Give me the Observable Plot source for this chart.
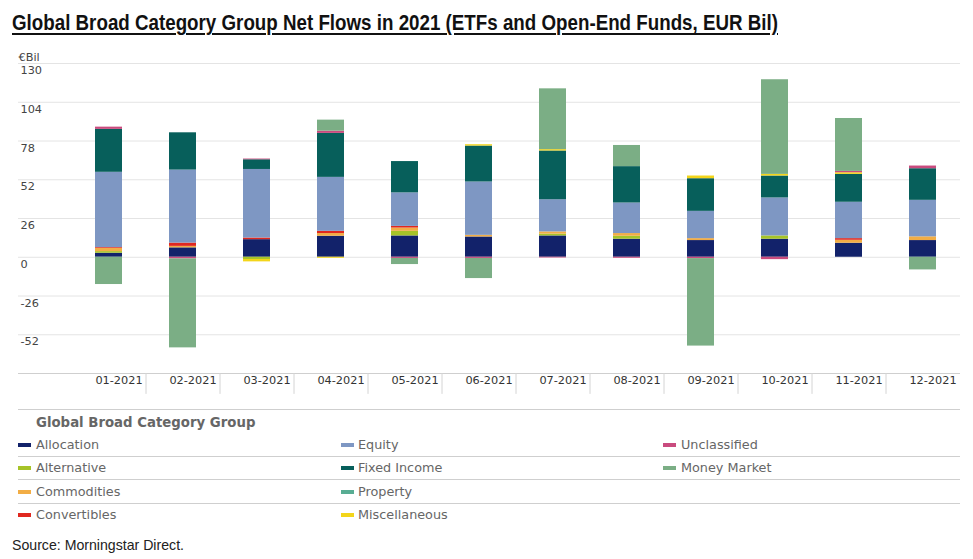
<!DOCTYPE html>
<html>
<head>
<meta charset="utf-8">
<script src="https://cdn.jsdelivr.net/npm/d3@7"></script>
<script src="https://cdn.jsdelivr.net/npm/@observablehq/plot@0.6"></script>
<style>
  html, body { margin: 0; padding: 0; background: #fff; }
  body { width: 973px; height: 559px; position: relative; overflow: hidden; }
  #title { position: absolute; left: 12px; top: 11px; line-height: 24px; white-space: nowrap;
    font-family: "Liberation Sans", Arial, sans-serif; font-weight: bold; transform-origin: 0 0;
    font-size: 21.5px; color: #111; text-decoration: underline; text-decoration-thickness: 2px; text-underline-offset: 3px; }
  #chart { position: absolute; left: 0; top: 40px; }
  #legend { position: absolute; left: 0; top: 0; width: 973px; height: 559px; pointer-events: none;
    font-family: "DejaVu Sans", sans-serif; color: #666; }
  .lg-line { position: absolute; left: 18px; width: 942px; height: 0; border-top: 1px solid #cfcfcf; }
  .lg-head { position: absolute; left: 36px; font-weight: bold; font-size: 13.3px; line-height: 16px; color: #666; }
  .lg-item { position: absolute; font-size: 12.8px; line-height: 16px; white-space: nowrap; }
  .lg-sw { position: absolute; width: 13px; height: 4px; }
  #source { position: absolute; left: 12px; top: 536px; line-height: 18px; white-space: nowrap; transform-origin: 0 0;
    font-family: "Liberation Sans", Arial, sans-serif; font-size: 15px; color: #222; }
</style>
</head>
<body>
<div id="title">Global Broad Category Group Net Flows in 2021 (ETFs and Open-End Funds, EUR Bil)</div>
<div id="chart"></div>
<div id="legend"></div>
<div id="source">Source: Morningstar Direct.</div>
<script>
// ---- data ----
const months = ["01-2021","02-2021","03-2021","04-2021","05-2021","06-2021","07-2021","08-2021","09-2021","10-2021","11-2021","12-2021"];
const yTicks = [130, 104, 78, 52, 26, 0, -26, -52];
const yAxisBottom = -78;

// stacking order (bottom to top)
const seriesNames = ["Allocation","Alternative","Commodities","Convertibles","Equity","Fixed Income","Miscellaneous","Property","Unclassified","Money Market"];
const seriesColors = ["#12226a","#a6c328","#f2ad45","#e0281f","#7e97c3","#075f5b","#f3d51a","#58ad93","#c94b7e","#7bae85"];

const allocation    = [2.7, 6.3, 11.8, 14.1, 14.3, 13.6, 14.3, 12.1, 11.2, 12.1, 9.4, 11.2];
const alternative   = [1.1, 0, -1.5, 0, 3.1, 0, 1.2, 2.0, 0, 2.2, 0, 0];
const commodities   = [2.2, 1.0, 0, 1.8, 2.2, 1.1, 1.5, 1.8, 1.3, 0, 2.0, 2.5];
const convertibles  = [0.5, 2.2, 1.1, 1.5, 1.1, 0, 0, 0, 0, 0, 1.1, 0];
const equity        = [50.5, 49.0, 46.0, 36.2, 22.5, 35.8, 21.6, 20.5, 18.3, 25.5, 24.4, 24.5];
const fixedIncome   = [28.8, 25.0, 6.5, 29.5, 21.0, 24.1, 32.7, 24.4, 21.9, 14.7, 18.7, 21.2];
const miscellaneous = [0, 0, -1.6, -0.7, 0, 0.9, 0.9, 0, 1.8, 1.1, 1.1, 0];
const property      = [0, 0, 0, 0, 0, 0, 0, 0, 0, 0, 0, 0];
const unclassified  = [1.5, -1.1, 0.5, 1.5, -0.8, -0.8, -0.5, -0.7, -0.9, -1.6, 0.9, 1.8];
const moneyMarket   = [-18.3, -59.7, 0, 7.4, -4.1, -13.5, 40.8, 14.2, -58.7, 63.5, 35.5, -8.5];

const legendOrder = ["Allocation","Alternative","Commodities","Convertibles","Equity","Fixed Income","Property","Miscellaneous","Unclassified","Money Market"];

// ---- build table ----
const seriesValues = [allocation, alternative, commodities, convertibles, equity, fixedIncome, miscellaneous, property, unclassified, moneyMarket];
const rows = [];
seriesNames.forEach((s, i) => {
  months.forEach((m, j) => {
    const v = seriesValues[i][j];
    if (v !== 0) rows.push({month: m, series: s, value: v});
  });
});

const step = (959.5 - 71.5) / months.length;

const chart = Plot.plot({
  width: 973,
  height: 360,
  marginTop: 23,
  marginBottom: 27,
  marginLeft: 18,
  marginRight: 13,
  style: {fontFamily: "DejaVu Sans, sans-serif", fontSize: "11.3px", color: "#444", background: "transparent"},
  x: {type: "band", domain: months, range: [71.5, 959.5], paddingInner: 0.635, paddingOuter: 0.3175, axis: null},
  y: {domain: [yAxisBottom, 130], axis: null},
  color: {domain: seriesNames, range: seriesColors},
  marks: [
    Plot.ruleY(yTicks, {y: d => d, stroke: "#e4e4e4", strokeWidth: 1}),
    Plot.ruleY([yAxisBottom], {y: d => d, stroke: "#cfcfcf", strokeWidth: 1}),
    Plot.text(yTicks, {y: d => d, text: d => String(d), frameAnchor: "left", textAnchor: "start", dx: 2, dy: 7, fill: "#444"}),
    Plot.text(["€Bil"], {text: d => d, frameAnchor: "top-left", textAnchor: "start", dy: -11, fill: "#444"}),
    Plot.barY(rows, Plot.stackY({x: "month", y: "value", fill: "series", order: seriesNames})),
    Plot.ruleX(months.slice(1), {x: d => d, dx: -step / 2, y1: yAxisBottom, y2: yAxisBottom - 14, stroke: "#d4d4d4"}),
    Plot.text(months, {x: d => d, text: d => d, frameAnchor: "bottom", dy: 10, dx: 10, fill: "#333"})
  ]
});
document.getElementById("chart").appendChild(chart);

// ---- fit condensed-looking texts ----
function fitWidth(id, target) {
  const el = document.getElementById(id);
  const w = el.getBoundingClientRect().width;
  if (w > 0) el.style.transform = `scaleX(${target / w})`;
}
fitWidth("title", 766);
fitWidth("source", 172);

// ---- legend ----
const legend = document.getElementById("legend");
const colorOf = Object.fromEntries(seriesNames.map((s, i) => [s, seriesColors[i]]));
function add(cls, css, text) {
  const d = document.createElement("div");
  d.className = cls;
  Object.assign(d.style, css);
  if (text) d.textContent = text;
  legend.appendChild(d);
  return d;
}
add("lg-line", {top: "409px"});
add("lg-head", {top: "415px"}, "Global Broad Category Group");
const rowY = [445, 468.3, 491.7, 515];
const lineY = [455.5, 479, 502.5];
lineY.forEach(y => add("lg-line", {top: y + "px"}));
const colSw = [18, 341, 663];
const colTx = [36, 358, 681];
legendOrder.forEach((s, k) => {
  const c = Math.floor(k / 4), r = k % 4;
  add("lg-sw", {left: colSw[c] + "px", top: (rowY[r] - 2) + "px", background: colorOf[s]});
  add("lg-item", {left: colTx[c] + "px", top: (rowY[r] - 8) + "px"}, s);
});
</script>
</body>
</html>
